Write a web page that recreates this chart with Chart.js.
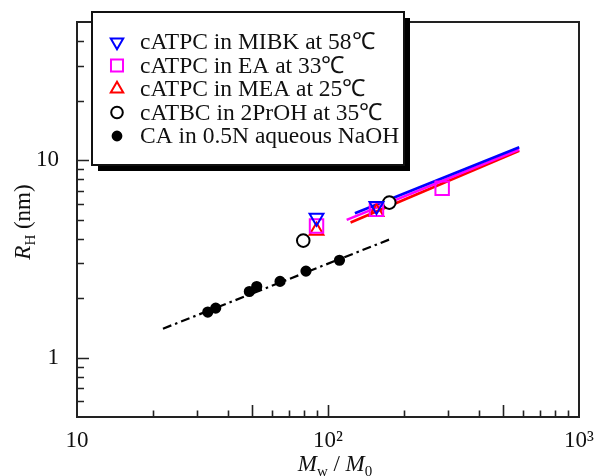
<!DOCTYPE html>
<html><head><meta charset="utf-8">
<script src="https://cdn.jsdelivr.net/npm/chart.js@4.4.0/dist/chart.umd.min.js"></script>
<style>html,body{margin:0;padding:0;background:#fff}</style>
</head><body>
<canvas id="c" width="597" height="476"></canvas>
<script>
// ---- data ----
const mibkX = [90, 156];
const mibkY = [5.1, 5.85];
const eaX = [90, 156, 285];
const eaY = [4.64, 5.64, 7.2];
const meaX = [90, 156];
const meaY = [4.39, 5.45];
const prohX = [79.7, 175.5];
const prohY = [3.91, 6.09];
const naohX = [33.2, 35.7, 48.6, 52.0, 64.4, 81.7, 111.1];
const naohY = [1.70, 1.78, 2.16, 2.29, 2.43, 2.74, 3.11];
// fitted lines (end points)
const fitMibkX = [128, 578];
const fitMibkY = [5.38, 11.6];
const fitEaX = [118.7, 578];
const fitEaY = [4.98, 11.3];
const fitMeaX = [123, 578];
const fitMeaY = [4.83, 11.14];
const fitNaohX = [22, 181];
const fitNaohY = [1.40, 4.02];
// ticks
const xTickVals = [10,20,30,40,50,60,70,80,90,100,200,300,400,500,600,700,800,900,1000];
const xTickLabels = {10:'10', 100:'10\u00B2', 1000:'10\u00B3'};
const yTickVals = [0.5,0.6,0.7,0.8,0.9,1,2,3,4,5,6,7,8,9,10,20,30,40,50];
const yTickLabels = {1:'1', 10:'10'};
const legendLabels = ['cATPC in MIBK at 58\u2103','cATPC in EA at 33\u2103','cATPC in MEA at 25\u2103','cATBC in 2PrOH at 35\u2103','CA in 0.5N aqueous NaOH'];

const pts = (xs, ys) => xs.map((x, i) => ({x, y: ys[i]}));
const SERIF = '"Liberation Serif", "Times New Roman", serif';

const pointSets = [
  {label: legendLabels[0], data: pts(mibkX, mibkY), pointStyle: 'triangle', rotation: 180, radius: 8, borderColor: '#0000ff', backgroundColor: 'rgba(0,0,0,0)'},
  {label: legendLabels[1], data: pts(eaX, eaY), pointStyle: 'rect', rotation: 0, radius: 9.5, borderColor: '#ff00ff', backgroundColor: 'rgba(0,0,0,0)'},
  {label: legendLabels[2], data: pts(meaX, meaY), pointStyle: 'triangle', rotation: 0, radius: 8, borderColor: '#ff0000', backgroundColor: 'rgba(0,0,0,0)'},
  {label: legendLabels[3], data: pts(prohX, prohY), pointStyle: 'circle', rotation: 0, radius: 6.3, borderColor: '#000000', backgroundColor: '#ffffff'},
  {label: legendLabels[4], data: pts(naohX, naohY), pointStyle: 'circle', rotation: 0, radius: 4.6, borderColor: '#000000', backgroundColor: '#000000'}
];

const datasets = [];
pointSets.forEach((s, i) => {
  datasets.push({
    type: 'scatter', label: s.label, data: s.data, showLine: false,
    pointStyle: s.pointStyle, rotation: s.rotation, pointRadius: s.radius,
    pointBorderWidth: 2, borderColor: s.borderColor, backgroundColor: s.backgroundColor,
    pointBackgroundColor: s.backgroundColor, pointBorderColor: s.borderColor, order: i
  });
});
const lineSets = [
  {data: pts(fitMibkX, fitMibkY), color: '#0000ff', dash: [], w: 2.6},
  {data: pts(fitEaX, fitEaY), color: '#ff00ff', dash: [], w: 2.6},
  {data: pts(fitMeaX, fitMeaY), color: '#ff0000', dash: [], w: 2.6},
  {data: pts(fitNaohX, fitNaohY), color: '#000000', dash: [9, 4, 2.5, 4], w: 2.2}
];
lineSets.forEach((l, i) => {
  datasets.push({
    type: 'line', label: 'fit' + i, data: l.data, showLine: true, pointRadius: 0,
    borderColor: l.color, borderWidth: l.w, borderDash: l.dash, fill: false, order: 10 + i
  });
});

const frameAndTicks = {
  id: 'frameAndTicks',
  afterDatasetsDraw(chart) {
    const {ctx, chartArea: a, scales} = chart;
    ctx.save();
    ctx.strokeStyle = '#222';
    ctx.lineWidth = 1.6;
    ctx.beginPath();
    xTickVals.forEach(v => {
      const px = Math.round(scales.x.getPixelForValue(v)) + 0.5;
      const len = (v === 100 || v === 50 || v === 500) ? 12 : 6.5;
      if (v === 10 || v === 1000) return;
      ctx.moveTo(px, a.bottom); ctx.lineTo(px, a.bottom - len);
    });
    yTickVals.forEach(v => {
      const py = Math.round(scales.y.getPixelForValue(v)) + 0.5;
      const len = (v === 1 || v === 10) ? 12 : 7;
      if (v === 0.5 || v === 50) return;
      ctx.moveTo(a.left, py); ctx.lineTo(a.left + len, py);
    });
    ctx.stroke();
    ctx.lineWidth = 2;
    ctx.strokeRect(a.left, a.top, a.right - a.left, a.bottom - a.top);
    ctx.restore();
  },
  afterDraw(chart) {
    const {ctx} = chart;
    ctx.save();
    // legend box with shadow
    const bx = 92, by = 12, bw = 312, bh = 153;
    ctx.fillStyle = '#000';
    ctx.fillRect(bx + 6, by + 6, bw, bh);
    ctx.fillStyle = '#fff';
    ctx.fillRect(bx, by, bw, bh);
    ctx.strokeStyle = '#111';
    ctx.lineWidth = 2;
    ctx.strokeRect(bx, by, bw, bh);
    const rowY = [42, 65.5, 89, 112.5, 136];
    pointSets.forEach((s, i) => {
      ctx.save();
      ctx.strokeStyle = s.borderColor;
      ctx.fillStyle = s.backgroundColor;
      ctx.lineWidth = 2;
      const r = s.pointStyle === 'rect' ? 8.5 : (s.pointStyle === 'triangle' ? 7.2 : (i === 4 ? 4.4 : 5.8));
      Chart.helpers.drawPoint(ctx, {pointStyle: s.pointStyle, rotation: s.rotation, radius: r, borderWidth: 2}, 117, rowY[i]);
      ctx.restore();
      ctx.fillStyle = '#111';
      ctx.font = '23.5px ' + SERIF;
      ctx.textBaseline = 'middle';
      ctx.textAlign = 'left';
      ctx.fillText(s.label, 140, rowY[i] + 1);
    });
    // x axis title: M_w / M_0
    ctx.fillStyle = '#111';
    ctx.textBaseline = 'alphabetic';
    const big = '23px ' + SERIF, bigI = 'italic 23px ' + SERIF, small = '15px ' + SERIF;
    const parts = [['M', bigI, 0], ['w', small, 5], [' / ', big, 0], ['M', bigI, 0], ['0', small, 5]];
    let total = 0;
    parts.forEach(p => { ctx.font = p[1]; total += ctx.measureText(p[0]).width; });
    let x = 335 - total / 2; const base = 471;
    parts.forEach(p => { ctx.font = p[1]; ctx.fillText(p[0], x, base + p[2]); x += ctx.measureText(p[0]).width; });
    // y axis title: R_H (nm)
    ctx.save();
    ctx.translate(30, 222);
    ctx.rotate(-Math.PI / 2);
    const yparts = [['R', bigI, 0], ['H', small, 5], [' (nm)', big, 0]];
    total = 0;
    yparts.forEach(p => { ctx.font = p[1]; total += ctx.measureText(p[0]).width; });
    x = -total / 2;
    yparts.forEach(p => { ctx.font = p[1]; ctx.fillText(p[0], x, p[2]); x += ctx.measureText(p[0]).width; });
    ctx.restore();
    ctx.restore();
  }
};

const zeroPad = s => { s.paddingLeft = 0; s.paddingRight = 0; s.paddingTop = 0; s.paddingBottom = 0; };

new Chart(document.getElementById('c'), {
  type: 'scatter',
  data: {datasets},
  options: {
    responsive: false,
    animation: false,
    events: [],
    layout: {autoPadding: false, padding: {left: 0, right: 18, top: 22, bottom: 0}},
    plugins: {legend: {display: false}, tooltip: {enabled: false}},
    elements: {line: {tension: 0}},
    scales: {
      x: {
        type: 'logarithmic', min: 10, max: 1000,
        afterBuildTicks: s => { s.ticks = xTickVals.map(v => ({value: v})); },
        afterFit: s => { s.height = 59; zeroPad(s); },
        grid: {display: false, drawTicks: false}, border: {display: false},
        ticks: {autoSkip: false, maxRotation: 0, minRotation: 0, padding: 10, color: '#111',
          font: {family: SERIF, size: 23},
          callback: v => xTickLabels[v] || ''}
      },
      y: {
        type: 'logarithmic', min: 0.5, max: 50,
        afterBuildTicks: s => { s.ticks = yTickVals.map(v => ({value: v})); },
        afterFit: s => { s.width = 77; zeroPad(s); },
        grid: {display: false, drawTicks: false}, border: {display: false},
        ticks: {autoSkip: false, padding: 18, color: '#111',
          font: {family: SERIF, size: 23},
          callback: v => yTickLabels[v] || ''}
      }
    }
  },
  plugins: [frameAndTicks]
});
</script>
</body></html>
